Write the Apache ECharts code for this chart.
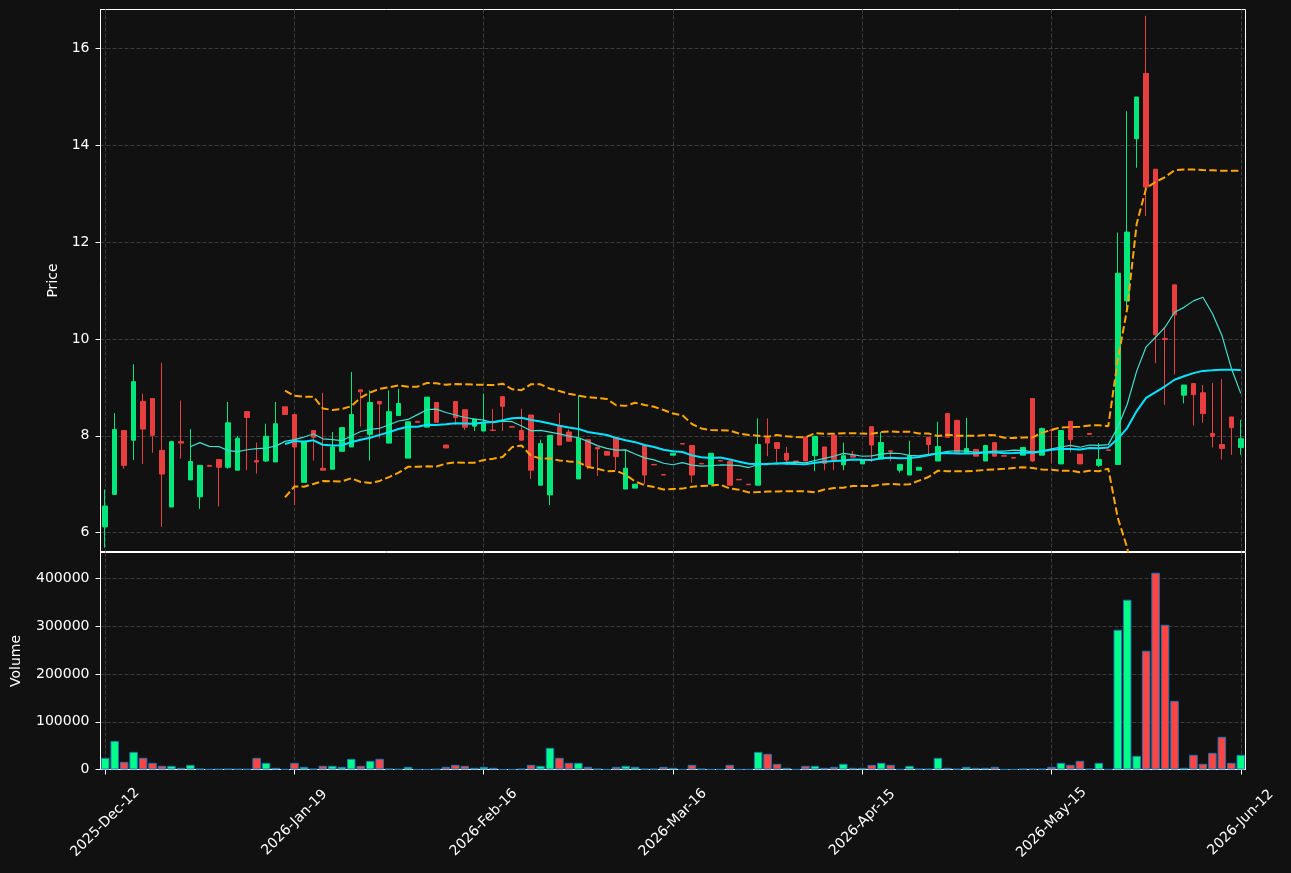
<!DOCTYPE html>
<html>
<head>
<meta charset="utf-8">
<script src="https://cdn.jsdelivr.net/npm/echarts@6/dist/echarts.min.js"></script>
<style>
html, body { margin: 0; padding: 0; background: #111111; }
#main { width: 1291px; height: 873px; }
</style>
</head>
<body>
<div id="main"></div>
<script>
// daily bars
const opens = [
  6.12, 6.79, 8.11, 7.91, 8.71, 8.77, 7.70, 6.53, 7.88, 7.09,
  6.74, 7.39, 7.51, 7.35, 7.29, 8.50, 7.49, 7.48, 7.46, 8.60,
  8.44, 7.04, 8.11, 7.33, 7.31, 7.68, 7.77, 8.95, 8.03, 8.71,
  7.85, 8.42, 7.54, 8.30, 8.18, 8.69, 7.81, 8.71, 8.54, 8.20,
  8.10, 8.12, 8.81, 8.19, 8.11, 8.43, 6.98, 6.78, 8.19, 8.08,
  7.11, 7.92, 7.76, 7.68, 7.96, 6.90, 6.92, 7.80, 7.41, 7.20,
  7.60, 7.84, 7.80, 7.43, 7.00, 7.49, 7.47, 7.10, 7.00, 6.98,
  7.95, 7.86, 7.64, 7.48, 7.97, 7.59, 7.77, 8.01, 7.40, 7.60,
  7.42, 8.19, 7.52, 7.69, 7.29, 7.19, 7.29, 7.97, 7.48, 8.46,
  8.32, 7.65, 7.72, 7.48, 7.86, 7.59, 7.55, 7.60, 8.77, 7.60,
  8.12, 7.42, 8.30, 7.62, 8.05, 7.39, 7.71, 7.41, 10.79, 14.14,
  15.49, 13.51, 10.01, 11.12, 8.84, 9.08, 8.89, 8.05, 7.82, 8.39,
  7.76
];
const closes = [
  6.55, 8.13, 7.39, 9.12, 8.14, 8.01, 7.21, 7.88, 7.85, 7.47,
  7.39, 7.37, 7.35, 8.27, 7.95, 8.38, 7.46, 7.99, 8.25, 8.44,
  7.77, 7.89, 7.97, 7.29, 7.77, 8.17, 8.44, 8.91, 8.69, 8.66,
  8.50, 8.67, 8.29, 8.28, 8.80, 8.28, 7.75, 8.38, 8.18, 8.35,
  8.28, 8.11, 8.61, 8.18, 7.91, 7.29, 7.84, 8.01, 7.81, 7.89,
  7.95, 7.37, 7.73, 7.60, 7.57, 7.33, 7.00, 7.19, 7.40, 7.19,
  7.64, 7.83, 7.19, 7.42, 7.64, 7.48, 6.98, 7.09, 6.99, 7.82,
  7.85, 7.74, 7.50, 7.47, 7.48, 7.99, 7.43, 7.51, 7.59, 7.56,
  7.51, 7.81, 7.86, 7.68, 7.41, 7.59, 7.35, 7.82, 7.78, 7.97,
  7.65, 7.74, 7.58, 7.80, 7.58, 7.58, 7.54, 7.76, 7.48, 8.15,
  8.11, 8.11, 7.92, 7.42, 8.03, 7.51, 7.70, 11.36, 12.21, 15.00,
  13.14, 10.09, 9.99, 10.50, 9.05, 8.85, 8.46, 7.99, 7.74, 8.17,
  7.94
];
const lows = [
  5.69, 6.78, 7.32, 7.50, 7.42, 7.65, 6.12, 6.53, 7.53, 7.09,
  6.49, 7.37, 6.54, 7.32, 7.29, 7.29, 7.22, 7.46, 7.46, 8.44,
  6.57, 7.04, 7.49, 7.29, 7.31, 7.68, 7.77, 8.19, 7.49, 7.95,
  7.85, 8.42, 7.54, 8.28, 8.18, 8.28, 7.75, 8.23, 8.12, 8.10,
  8.10, 8.10, 8.10, 8.18, 7.91, 7.11, 6.98, 6.57, 7.81, 7.89,
  7.11, 7.31, 7.17, 7.60, 7.29, 6.90, 6.92, 7.01, 7.40, 7.19,
  7.60, 7.83, 7.03, 7.42, 7.00, 7.48, 6.98, 7.09, 6.99, 6.98,
  7.58, 7.46, 7.40, 7.47, 7.48, 7.27, 7.29, 7.29, 7.29, 7.56,
  7.42, 7.46, 7.52, 7.48, 7.24, 7.19, 7.29, 7.61, 7.48, 7.97,
  7.65, 7.65, 7.58, 7.48, 7.58, 7.58, 7.54, 7.60, 7.46, 7.60,
  7.43, 7.42, 7.66, 7.42, 8.03, 7.36, 7.70, 7.41, 10.65, 13.54,
  12.54, 9.50, 8.64, 9.27, 8.67, 8.21, 8.27, 7.76, 7.51, 7.61,
  7.61
];
const highs = [
  6.89, 8.47, 8.11, 9.48, 8.87, 8.77, 9.51, 7.90, 8.73, 8.14,
  7.39, 7.39, 7.51, 8.70, 8.00, 8.50, 7.86, 8.25, 8.70, 8.60,
  8.44, 7.89, 8.11, 8.89, 8.08, 8.17, 9.32, 8.95, 8.94, 8.71,
  8.94, 8.97, 8.29, 8.30, 8.80, 8.69, 7.81, 8.71, 8.54, 8.35,
  8.87, 8.56, 8.81, 8.19, 8.56, 8.43, 7.92, 8.01, 8.47, 8.13,
  8.84, 7.92, 7.76, 7.68, 7.96, 7.72, 7.00, 7.80, 7.41, 7.20,
  7.64, 7.84, 7.80, 7.43, 7.64, 7.49, 7.51, 7.10, 7.00, 8.36,
  8.36, 7.86, 7.77, 7.48, 7.97, 7.99, 7.77, 8.01, 7.86, 7.69,
  7.51, 8.19, 8.08, 7.69, 7.41, 7.90, 7.35, 7.97, 8.29, 8.46,
  8.32, 8.37, 7.72, 7.80, 7.86, 7.59, 7.55, 7.76, 8.77, 8.17,
  8.12, 8.11, 8.30, 7.62, 8.05, 7.85, 7.71, 12.20, 14.71, 15.00,
  16.68, 13.51, 10.25, 11.12, 9.05, 9.08, 9.05, 9.09, 9.17, 8.39,
  8.33
];
const volumes = [
  24500, 60000, 16000, 37000, 24500, 14000, 7700, 7700, 3500, 9800,
  1500, 500, 800, 1200, 1000, 900, 24500, 14000, 3500, 500,
  14000, 5600, 1500, 7700, 7700, 5600, 22400, 7700, 18200, 22400,
  1500, 800, 5600, 300, 300, 1000, 5600, 9800, 7700, 3500,
  5600, 3500, 300, 300, 1400, 9800, 7700, 45500, 24500, 14000,
  14000, 5600, 1400, 300, 5600, 7700, 5600, 1400, 1400, 5600,
  3500, 300, 9800, 1400, 300, 300, 9800, 300, 300, 37000,
  32900, 11900, 3500, 300, 7700, 7700, 3500, 5600, 11900, 3500,
  3500, 9800, 14000, 9800, 300, 7700, 1400, 1400, 24500, 3500,
  1400, 5600, 3500, 3500, 5600, 300, 300, 1400, 1400, 1400,
  5600, 14000, 9800, 18200, 1400, 14000, 300, 293000, 356000, 28700,
  249000, 412600, 303500, 144000, 3500, 30800, 11900, 35000, 68500, 14000,
  30800
];

// trading calendar
const firstDay = '2025-12-12';
const lastDay = '2026-06-12';
const closedDays = [
  '2025-12-24', '2025-12-25', '2025-12-26', '2025-12-31', '2026-01-01',
  '2026-01-02', '2026-04-03', '2026-04-06', '2026-05-01', '2026-05-04'
];
const monthNames = ['Jan', 'Feb', 'Mar', 'Apr', 'May', 'Jun', 'Jul', 'Aug', 'Sep', 'Oct', 'Nov', 'Dec'];
const labelEvery = 20;

function tradingDates() {
  const out = [];
  const end = new Date(lastDay + 'T00:00:00Z');
  for (let d = new Date(firstDay + 'T00:00:00Z'); d <= end; d.setUTCDate(d.getUTCDate() + 1)) {
    const wd = d.getUTCDay();
    const iso = d.toISOString().slice(0, 10);
    if (wd === 0 || wd === 6 || closedDays.indexOf(iso) >= 0) continue;
    out.push(d.getUTCFullYear() + '-' + monthNames[d.getUTCMonth()] + '-' +
      String(d.getUTCDate()).padStart(2, '0'));
  }
  return out;
}

function rolling(values, n, fn) {
  return values.map(function (v, i) {
    if (i < n - 1) return '-';
    return fn(values.slice(i - n + 1, i + 1));
  });
}
function mean(arr) {
  return arr.reduce(function (a, b) { return a + b; }, 0) / arr.length;
}
function band(arr, k) {
  const m = mean(arr);
  const sd = Math.sqrt(mean(arr.map(function (v) { return (v - m) * (v - m); })));
  return m + k * sd;
}

const dates = tradingDates();
const ma10 = rolling(closes, 10, mean);
const ma20 = rolling(closes, 20, mean);
const bbUpper = rolling(closes, 20, function (a) { return band(a, 2); });
const bbLower = rolling(closes, 20, function (a) { return band(a, -2); });

const upColor = '#02e77c', downColor = '#e73f3f';
const volUp = '#00ff88', volDown = '#ff4444';

const candles = opens.map(function (o, i) {
  return [o, closes[i], lows[i], highs[i]];
});
const volBars = volumes.map(function (v, i) {
  return {
    value: v,
    itemStyle: { color: closes[i] >= opens[i] ? volUp : volDown }
  };
});

const everyTick = function (index) { return index % labelEvery === 0; };
const gridLine = { color: '#3c3c3c', width: 1, type: [4, 2] };
const bandLine = { color: '#ffa500', width: 2, type: [7.5, 3.3] };
const txt = { color: '#ffffff', fontSize: 14, fontFamily: 'DejaVu Sans' };

// half-pixel offsets keep the white frame crisp
const option = {
  backgroundColor: '#111111',
  animation: false,
  grid: [
    { left: 100.5, right: 45.5, top: 9.5, height: 542, show: true, borderColor: '#ffffff', borderWidth: 1, backgroundColor: '#111111' },
    { left: 100.5, right: 45.5, top: 552.5, height: 217, show: true, borderColor: '#ffffff', borderWidth: 1, backgroundColor: '#111111' }
  ],
  xAxis: [
    {
      type: 'category', gridIndex: 0, data: dates, boundaryGap: true,
      axisLine: { show: false },
      axisTick: { show: false },
      axisLabel: { show: false },
      splitLine: { show: true, interval: everyTick, alignWithLabel: true, lineStyle: gridLine }
    },
    {
      type: 'category', gridIndex: 1, data: dates, boundaryGap: true,
      axisLine: { show: true, lineStyle: { color: '#ffffff' } },
      axisTick: { show: true, interval: everyTick, alignWithLabel: true, length: 5, lineStyle: { color: '#ffffff' } },
      axisLabel: Object.assign({
        interval: everyTick, rotate: 45, align: 'center', verticalAlign: 'middle', margin: 53
      }, txt),
      splitLine: { show: true, interval: everyTick, alignWithLabel: true, lineStyle: gridLine }
    }
  ],
  yAxis: [
    {
      type: 'value', gridIndex: 0, min: 5.61, max: 16.81, splitNumber: 5,
      name: 'Price', nameLocation: 'middle', nameGap: 33,
      nameTextStyle: txt,
      axisLine: { show: true, lineStyle: { color: '#ffffff' } },
      axisTick: { show: true, length: 5, lineStyle: { color: '#ffffff' } },
      axisLabel: Object.assign({
        margin: 11, showMinLabel: false, showMaxLabel: false,
        formatter: function (v) {
          const r = Math.round(v);
          return Math.abs(v - r) < 1e-6 && r % 2 === 0 ? String(r) : '';
        }
      }, txt),
      splitLine: { show: true, showMinLine: false, showMaxLine: false, lineStyle: gridLine }
    },
    {
      type: 'value', gridIndex: 1, min: 0, max: 455000, interval: 100000,
      name: 'Volume', nameLocation: 'middle', nameGap: 77,
      nameTextStyle: txt,
      axisLine: { show: true, lineStyle: { color: '#ffffff' } },
      axisTick: { show: true, length: 5, lineStyle: { color: '#ffffff' } },
      axisLabel: Object.assign({
        margin: 11, showMaxLabel: false,
        formatter: function (v) { return v % 100000 === 0 ? String(v) : ''; }
      }, txt),
      splitLine: { show: true, showMinLine: false, showMaxLine: false, lineStyle: gridLine }
    }
  ],
  series: [
    {
      name: 'Price', type: 'candlestick', xAxisIndex: 0, yAxisIndex: 0,
      data: candles, barWidth: 5,
      itemStyle: {
        color: upColor, color0: downColor,
        borderColor: upColor, borderColor0: downColor, borderWidth: 1
      }
    },
    {
      name: 'MA10', type: 'line', xAxisIndex: 0, yAxisIndex: 0, data: ma10,
      showSymbol: false, lineStyle: { color: '#40e0d0', width: 1.2 }, z: 3
    },
    {
      name: 'MA20', type: 'line', xAxisIndex: 0, yAxisIndex: 0, data: ma20,
      showSymbol: false, lineStyle: { color: '#00e5ff', width: 2 }, z: 3
    },
    {
      name: 'BB upper', type: 'line', xAxisIndex: 0, yAxisIndex: 0, data: bbUpper,
      showSymbol: false, lineStyle: bandLine, z: 4
    },
    {
      name: 'BB lower', type: 'line', xAxisIndex: 0, yAxisIndex: 0, data: bbLower,
      showSymbol: false, lineStyle: bandLine, z: 4
    },
    {
      name: 'Volume', type: 'bar', xAxisIndex: 1, yAxisIndex: 1, data: volBars,
      barWidth: '90%',
      itemStyle: { borderColor: '#1f77b4', borderWidth: 1 }
    }
  ]
};

const chart = echarts.init(document.getElementById('main'));
chart.setOption(option);
window.onresize = function () {
  chart.resize();
};
</script>
</body>
</html>
